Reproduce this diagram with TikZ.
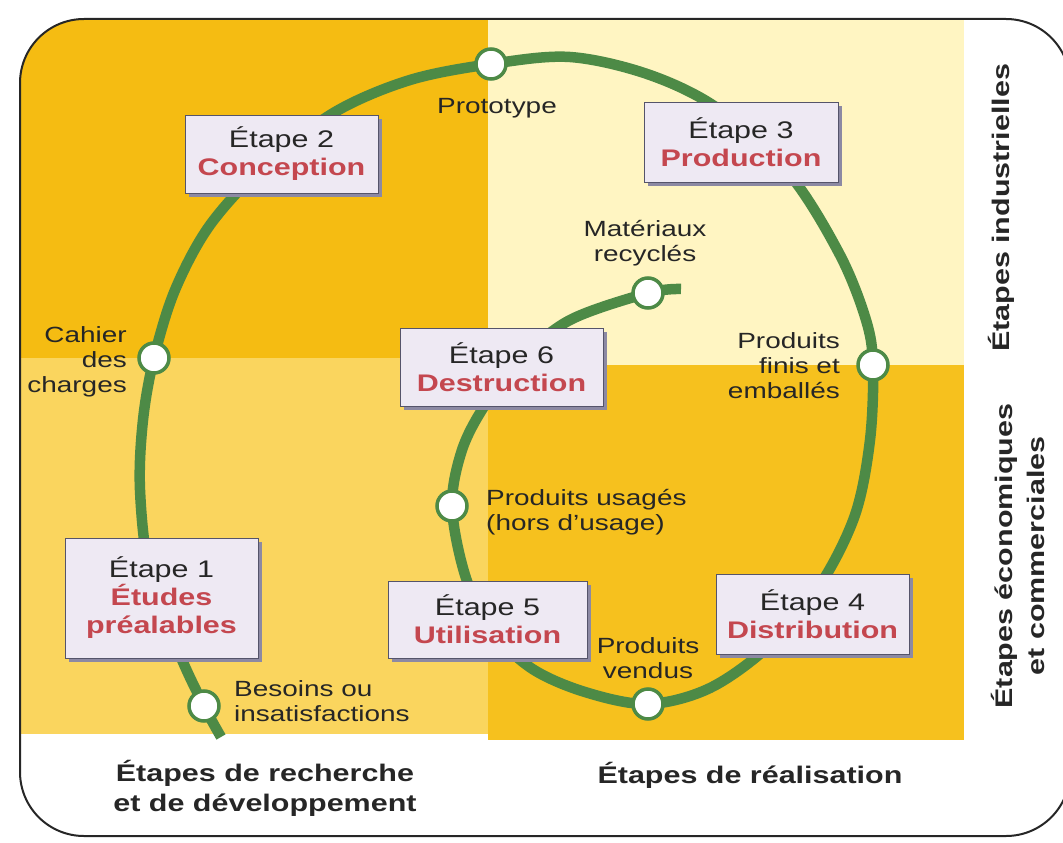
\documentclass[tikz,border=0pt]{standalone}
\usepackage{fontspec}
\setmainfont{Liberation Sans}[FakeStretch=1.27]
\usetikzlibrary{shadows}
\definecolor{tl}{HTML}{F5BC12}
\definecolor{tr}{HTML}{FFF5C2}
\definecolor{bl}{HTML}{FAD55E}
\definecolor{br}{HTML}{F6C11E}
\definecolor{grn}{HTML}{4D8A46}
\definecolor{boxf}{HTML}{EEE9F3}
\definecolor{boxd}{HTML}{55546A}
\definecolor{shad}{HTML}{8C89A3}
\definecolor{redt}{HTML}{C4474F}
\definecolor{txt}{HTML}{262626}
\tikzset{
  stagebox/.style={draw=boxd, line width=1pt, fill=boxf,
    drop shadow={fill=shad, opacity=1, shadow xshift=4pt, shadow yshift=-4pt},
    inner sep=0pt, align=center, font=\fontsize{24}{28}\selectfont, text=txt},
  dot/.style={circle, draw=grn, line width=3.5pt, fill=white, minimum size=30pt, inner sep=0pt},
  lbl/.style={font=\fontsize{22}{25}\selectfont, text=txt, inner sep=0pt},
  bigl/.style={font=\bfseries\fontsize{24}{30}\selectfont, text=txt, inner sep=0pt, align=center},
  loopline/.style={draw=grn, line width=10.5pt, line cap=butt, line join=round},
  frame/.style={draw=black!85, line width=2pt, rounded corners=64pt}
}
\newcommand{\stg}[2]{Étape #1\\{\color{redt}\bfseries #2}}
\begin{document}
\begin{tikzpicture}[x=1pt,y=-1pt]
\useasboundingbox (0,0) rectangle (1063,843);
\clip (0,0) rectangle (1063,843);
% background quadrants
\begin{scope}
  \clip[rounded corners=64pt] (20,19) rectangle (1070,836);
  \fill[tl] (0,0) rectangle (488,358);
  \fill[tr] (488,0) rectangle (964,365);
  \fill[bl] (0,358) rectangle (488,734);
  \fill[br] (488,365) rectangle (964,740);
\end{scope}
\draw[frame] (20,19) rectangle (1070,836);
% coordinates on the loop
\coordinate (dS) at (221,737);
\coordinate (dB) at (204,706);
\coordinate (dC) at (154,358);
\coordinate (dP) at (491,64);
\coordinate (dF) at (873,365);
\coordinate (dV) at (648,704);
\coordinate (dU) at (452,506);
\coordinate (dR) at (648,293);
\coordinate (dE) at (681,289);
\draw[loopline] plot[smooth, tension=0.55] coordinates {
 (dS) (dB) (180,655) (150,575) (140,490) (143,420) (dC) (175,290) (210,225)
 (265,165) (335,112) (410,80) (dP) (570,57) (650,75) (720,110) (790,175)
 (840,255) (866,320) (dF) (870,440) (855,515) (820,585) (770,645) (710,688)
 (dV) (585,692) (531,668) (490,628) (465,575) (dU) (462,450) (485,405)
 (520,360) (570,320) (dR) (dE)};
% stage boxes
\node[stagebox, minimum width=193pt, minimum height=120pt] (s1) at (161.5,598) {Étape 1\\{\color{redt}\bfseries Études}\\{\color{redt}\bfseries préalables}};
\node[stagebox, minimum width=193pt, minimum height=78pt] (s2) at (281.5,154) {\stg{2}{Conception}};
\node[stagebox, minimum width=194pt, minimum height=80pt] (s3) at (741,142) {\stg{3}{Production}};
\node[stagebox, minimum width=193pt, minimum height=80pt] (s4) at (812.5,614) {\stg{4}{Distribution}};
\node[stagebox, minimum width=199pt, minimum height=77pt] (s5) at (487.5,619.5) {\stg{5}{Utilisation}};
\node[stagebox, minimum width=203pt, minimum height=78pt] (s6) at (501.5,367) {\stg{6}{Destruction}};
% dots
\foreach \n in {B,C,P,F,V,U,R} \node[dot] (n\n) at (d\n) {};
% small labels
\node[lbl] (lP) at (497,108) {Prototype};
\node[lbl, align=center] (lR) at (645,243) {Matériaux\\recyclés};
\node[lbl, align=right, anchor=east] (lC) at (127,362) {Cahier\\des\\charges};
\node[lbl, align=right, anchor=east] (lF) at (840,366) {Produits\\finis et\\emballés};
\node[lbl, align=left, anchor=west] (lU) at (486,512) {Produits usagés\\(hors d'usage)};
\node[lbl, align=center] (lV) at (648,658) {Produits\\vendus};
\node[lbl, align=left, anchor=west] (lB) at (234,701) {Besoins ou\\insatisfactions};
% big labels
\node[bigl] (bRD) at (265,788) {Étapes de recherche\\et de développement};
\node[bigl] (bR) at (750,775) {Étapes de réalisation};
\node[bigl, rotate=90] (bI) at (1001,208) {Étapes industrielles};
\node[bigl, rotate=90, font=\bfseries\fontsize{24}{32}\selectfont] (bE) at (1018,556) {Étapes économiques\\et commerciales};
\end{tikzpicture}
\end{document}
